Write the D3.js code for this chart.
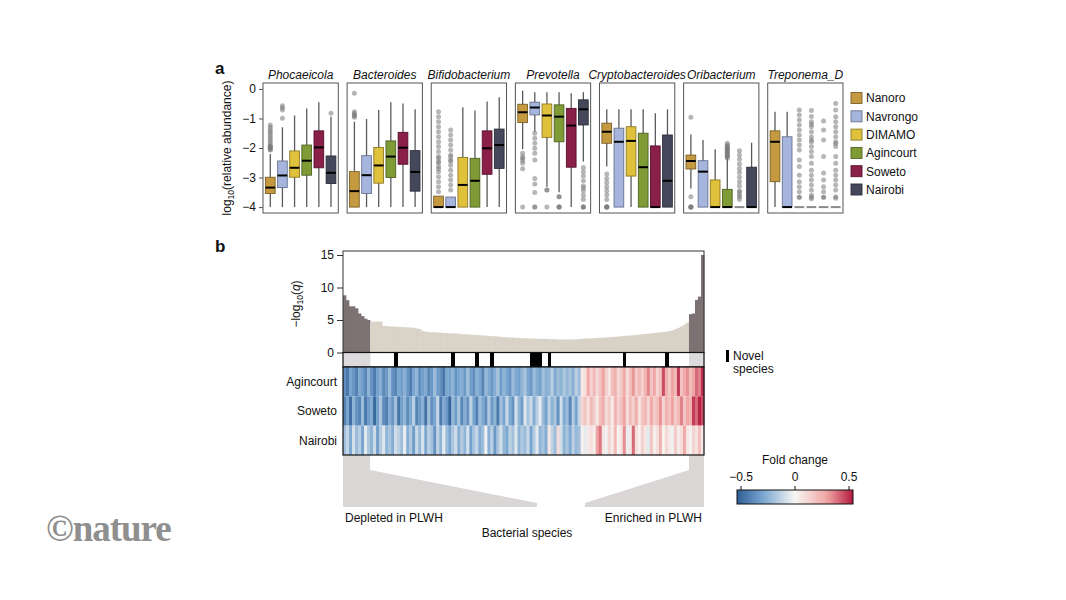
<!DOCTYPE html>
<html><head><meta charset="utf-8">
<script src="https://cdn.jsdelivr.net/npm/d3@7"></script>
<style>body{margin:0;background:#fff} text{font-family:"Liberation Sans",Arial,sans-serif;fill:#111}</style>
</head><body><svg id="c" width="1066" height="600"></svg>
<script>
// ---------- DATA ----------
const groups = ["Nanoro","Navrongo","DIMAMO","Agincourt","Soweto","Nairobi"];
const groupColors = ["#c4993f","#a6b5de","#e0c13c","#7f9b36","#8a1f47","#45485a"];
const genera = ["Phocaeicola","Bacteroides","Bifidobacterium","Prevotella","Cryptobacteroides","Oribacterium","Treponema_D"];
const yTicksA = [0,-1,-2,-3,-4];
// [low whisker, q1, median, q3, high whisker] per group
const phocaeicolaBox = [[-4,-3.54,-3.34,-2.99,-2.2],[-4,-3.34,-2.93,-2.44,-1.3],[-4,-2.99,-2.67,-2.10,-0.9],[-4,-2.92,-2.43,-1.9,-0.66],[-4,-2.67,-1.98,-1.42,-0.45],[-4,-3.2,-2.84,-2.27,-0.94]];
const bacteroidesBox = [[-4,-4,-3.46,-2.8,-1.11],[-4,-3.54,-2.92,-2.26,-1.02],[-4,-3.19,-2.59,-1.98,-0.71],[-4,-3.0,-2.29,-1.76,-0.45],[-4,-2.55,-1.99,-1.47,-0.49],[-4,-3.46,-2.81,-2.09,-0.69]];
const bifidobacteriumBox = [[-4,-4,-4,-3.63,-3.63],[-4,-4,-4,-3.66,-3.66],[-4,-4,-3.25,-2.32,-0.62],[-4,-4,-3.11,-2.35,-0.73],[-4,-2.89,-2.01,-1.42,-0.43],[-4,-2.69,-1.9,-1.36,-0.28]];
const prevotellaBox = [[-2.04,-1.14,-0.79,-0.52,-0.06],[-1.45,-0.88,-0.63,-0.45,-0.11],[-3.31,-1.64,-0.9,-0.51,-0.11],[-3.5,-1.79,-0.94,-0.54,-0.11],[-4,-2.65,-1.24,-0.66,-0.15],[-2.46,-1.22,-0.69,-0.37,-0.11]];
const cryptobacteroidesBox = [[-2.63,-1.84,-1.45,-1.16,-0.69],[-4,-4,-1.79,-1.33,-0.69],[-4,-2.95,-1.76,-1.28,-0.69],[-4,-4,-2.65,-1.5,-0.69],[-4,-4,-4,-1.93,-0.82],[-4,-4,-3.11,-1.56,-0.69]];
const oribacteriumBox = [[-3.37,-2.71,-2.44,-2.24,-1.54],[-4,-4,-2.8,-2.43,-1.73],[-4,-4,-4,-3.08,-2.04],[-4,-4,-4,-3.4,-2.3],[-4,-4,-4,-4,-4],[-4,-4,-4,-2.65,-1.82]];
const treponemaBox = [[-4,-3.14,-1.79,-1.42,-0.77],[-4,-4,-4,-1.62,-0.77],[-4,-4,-4,-4,-4],[-4,-4,-4,-4,-4],[-4,-4,-4,-4,-4],[-4,-4,-4,-4,-4]];
// outliers per group
const phocaeicolaOut = [[-1.22,-1.3,-1.38,-1.45,-1.52,-1.6,-1.67,-1.75,-1.82,-1.9,-1.95,-2.0,-2.05,-1.95,-2.0,-2.07],[-0.57,-0.64,-0.71,-0.99],[],[],[],[-0.82]];
const bacteroidesOut = [[-0.15,-0.77,-0.83,-0.88,-0.92,-0.96],[],[],[],[],[]];
const bifidobacteriumOut = [[-0.77,-0.94,-1.11,-1.28,-1.45,-1.62,-1.79,-1.95,-2.12,-2.29,-2.35,-2.46,-2.5,-2.63,-2.7,-2.8,-2.97,-3.14,-3.31,-3.48],[-1.39,-1.56,-1.73,-1.9,-2.07,-2.24,-2.3,-2.41,-2.45,-2.58,-2.75,-2.92,-3.08,-3.25,-3.42],[],[],[],[]];
const prevotellaOut = [[-2.18,-2.3,-2.35,-2.42,-2.52,-2.7,-4],[-1.5,-1.67,-1.84,-2.01,-2.18,-2.41,-3.03,-3.22,-3.51,-4,-4],[-3.42,-3.42,-4],[-3.65,-3.65,-4,-4,-4],[],[-2.66,-2.8,-2.95,-3.11,-3.29,-3.35,-3.45,-3.6,-3.74,-4,-4,-4]];
const cryptobacteroidesOut = [[-2.88,-3.03,-3.17,-3.31,-3.45,-3.59,-3.74,-4,-4,-4,-4],[],[],[],[],[]];
const oribacteriumOut = [[-0.96,-3.65,-4,-4,-4,-4],[],[],[-1.84,-1.9,-1.95,-2.0,-2.05,-2.1,-2.15,-2.2,-2.25,-2.3,-2.35,-1.95,-2.05,-2.15,-2.25],[-2.09,-2.24,-2.38,-2.54,-2.69,-2.83,-2.99,-3.14,-3.29,-3.45,-3.5,-3.59,-3.65,-3.74],[]];
const treponemaOut = [[],[],[-0.71,-0.88,-1.05,-1.22,-1.39,-1.56,-1.73,-1.9,-2.07,-2.41,-2.63,-2.92,-3.14,-3.31,-3.48,-3.67,-3.67],[-0.73,-0.93,-1.11,-1.2,-1.28,-1.45,-1.62,-1.73,-1.79,-1.95,-2.12,-2.29,-2.52,-2.75,-2.92,-3.08,-3.25,-3.42,-3.6,-3.67,-3.72],[-1.09,-1.39,-1.73,-2.29,-2.85,-3.08,-3.31,-3.48,-3.67,-3.67],[-0.49,-0.71,-0.94,-1.11,-1.28,-1.45,-1.62,-1.79,-1.85,-1.95,-2.29,-2.52,-2.75,-2.92,-3.08,-3.25,-3.42,-3.65,-3.7]];
const boxStats = [phocaeicolaBox,bacteroidesBox,bifidobacteriumBox,prevotellaBox,cryptobacteroidesBox,oribacteriumBox,treponemaBox];
const outliers = [phocaeicolaOut,bacteroidesOut,bifidobacteriumOut,prevotellaOut,cryptobacteroidesOut,oribacteriumOut,treponemaOut];

// panel b
const qValues = [8.8,8.05,7.1,7.1,6.8,6.0,5.6,5.2,5.0,
 4.75,4.75,4.75,4.75,4.1,4.05,4.0,4.0,3.95,3.95,3.9,3.9,3.85,3.85,3.8,3.7,3.6,
 3.3,3.2,3.15,3.1,3.1,3.05,3.05,3.0,3.0,2.95,2.95,2.9,2.9,
 2.8,2.8,2.75,2.75,2.7,2.7,2.65,2.6,2.6,2.55,2.5,2.5,2.45,2.4,
 2.35,2.35,2.3,2.3,2.25,2.25,
 2.2,2.2,2.15,2.15,2.15,2.1,2.1,2.1,2.1,2.05,2.05,2.05,2.0,2.0,
 2.0,2.0,2.0,2.0,2.05,2.05,2.1,
 2.15,2.15,2.2,2.2,2.25,2.25,2.3,2.3,2.35,2.4,2.4,2.45,2.5,
 2.55,2.6,2.6,2.65,2.7,2.75,2.8,2.85,2.9,2.95,
 3.0,3.05,3.1,3.15,3.2,3.3,3.4,
 3.6,3.8,4.0,4.3,4.6,
 5.9,6.0,8.1,8.6,15];
const novelSpecies = [17,36,44,49,62,63,64,65,68,93,107];
const heatRows = ["Agincourt","Soweto","Nairobi"];
const agincourtFC = [-0.38,-0.45,-0.30,-0.35,-0.42,-0.28,-0.33,-0.40,-0.25,-0.36,-0.44,-0.31,-0.27,-0.39,-0.34,-0.22,-0.37,-0.41,-0.29,-0.33,
 -0.26,-0.35,-0.43,-0.30,-0.24,-0.38,-0.32,-0.28,-0.40,-0.35,-0.21,-0.33,-0.37,-0.46,-0.29,-0.31,-0.25,-0.36,-0.30,-0.27,
 -0.34,-0.20,-0.32,-0.38,-0.26,-0.30,-0.41,-0.23,-0.29,-0.35,-0.27,-0.19,-0.33,-0.24,-0.30,-0.36,-0.22,-0.28,-0.31,-0.25,
 -0.18,-0.29,-0.34,-0.22,-0.27,-0.31,-0.20,-0.26,-0.24,-0.15,-0.28,-0.21,-0.25,-0.17,-0.23,-0.19,-0.26,-0.14,-0.21,
 0.05,0.08,0.28,0.12,0.22,0.10,0.18,0.30,0.14,0.06,0.20,0.25,0.11,0.16,0.27,0.09,0.19,0.32,0.15,0.22,0.13,0.24,0.35,0.18,0.28,0.12,0.20,0.45,0.26,0.17,0.30,0.22,0.48,0.19,0.27,0.33,0.21,0.29,0.40,0.36,0.50];
const sowetoFC = [-0.42,-0.30,-0.48,-0.25,-0.36,-0.40,-0.22,-0.45,-0.33,-0.28,-0.50,-0.31,-0.18,-0.38,-0.43,-0.27,-0.35,-0.20,-0.46,-0.32,
 -0.24,-0.39,-0.29,-0.15,-0.41,-0.34,-0.26,-0.47,-0.21,-0.37,-0.30,-0.12,-0.44,-0.28,-0.35,-0.52,-0.23,-0.33,-0.19,-0.40,
 -0.27,-0.36,-0.14,-0.31,-0.42,-0.22,-0.29,-0.38,-0.17,-0.34,-0.25,-0.45,-0.20,-0.30,-0.11,-0.28,-0.36,-0.08,-0.24,-0.33,
 -0.06,-0.19,-0.10,-0.27,-0.15,-0.04,-0.22,-0.31,-0.13,-0.25,-0.18,-0.36,-0.09,-0.28,-0.21,-0.40,-0.16,-0.30,-0.12,
 0.12,0.18,0.08,0.22,0.15,0.05,0.20,0.26,0.10,0.16,0.04,0.24,0.13,0.19,0.30,0.09,0.21,0.14,0.27,0.07,0.18,0.23,0.11,0.28,0.16,0.20,0.33,0.12,0.25,0.19,0.30,0.15,0.22,0.36,0.18,0.28,0.24,0.48,0.40,0.52,0.45];
const nairobiFC = [-0.20,-0.12,-0.28,-0.08,-0.22,-0.15,-0.30,-0.05,-0.18,-0.25,-0.10,-0.32,-0.16,-0.06,-0.24,-0.19,-0.27,-0.09,-0.14,-0.21,
 -0.03,-0.26,-0.17,-0.33,-0.11,-0.23,-0.07,-0.29,-0.15,-0.20,-0.36,-0.13,-0.25,-0.04,-0.22,-0.30,-0.18,-0.10,-0.27,-0.16,
 -0.24,-0.08,-0.31,-0.19,-0.12,-0.28,-0.21,-0.02,-0.26,-0.15,-0.34,-0.18,-0.09,-0.23,-0.29,-0.14,-0.20,-0.06,-0.25,-0.17,
 -0.22,-0.11,-0.30,-0.16,-0.05,-0.24,-0.19,-0.27,0.06,-0.13,-0.21,0.10,-0.09,-0.25,-0.18,-0.28,-0.14,-0.23,-0.20,
 0.02,-0.04,0.05,0.08,0.03,0.30,0.38,0.06,-0.02,0.12,0.04,0.22,0.01,0.07,0.34,-0.03,0.05,0.40,0.09,0.02,0.14,0.06,-0.05,0.18,0.03,0.08,0.25,0.01,0.11,0.05,-0.02,0.16,0.04,0.09,0.28,0.06,0.02,0.13,0.07,0.20,0.05];
const foldChange = [agincourtFC, sowetoFC, nairobiFC];
const yTicksB = [0,5,10,15];
const fcTicks = [-0.5,0,0.5];

// ---------- DRAW ----------
const svg = d3.select("#c");
const F = 12;

// Panel a
svg.append("text").attr("x",215).attr("y",74).attr("font-size",17).attr("font-weight","bold").text("a");
const panelX = d3.scaleBand().domain(genera).range([263,843]).paddingInner(0.105);
const yA = d3.scaleLinear().domain([-4.2,0.2]).range([213,83]);
const gx = d3.scaleBand().domain(groups).range([0,panelX.bandwidth()]).paddingInner(0.2).paddingOuter(0.2);
const color = d3.scaleOrdinal().domain(groups).range(groupColors);

genera.forEach((gen,gi)=>{
  const g = svg.append("g").attr("transform",`translate(${panelX(gen)},0)`);
  g.append("text").attr("x",panelX.bandwidth()/2).attr("y",79).attr("text-anchor","middle")
    .attr("font-size",F).attr("font-style","italic").text(gen);
  groups.forEach((grp,k)=>{
    const [lo,q1,md,q3,hi] = boxStats[gi][k];
    const cx = gx(grp)+gx.bandwidth()/2, bw = gx.bandwidth();
    if (q1===q3){
      g.append("line").attr("x1",gx(grp)).attr("x2",gx(grp)+bw).attr("y1",yA(q1)).attr("y2",yA(q1))
        .attr("stroke","#8a8a8a").attr("stroke-width",2);
    } else {
      g.append("line").attr("x1",cx).attr("x2",cx).attr("y1",yA(lo)).attr("y2",yA(hi))
        .attr("stroke","#5a5a5a").attr("stroke-width",1.3);
      g.append("rect").attr("x",gx(grp)).attr("y",yA(q3)).attr("width",bw).attr("height",yA(q1)-yA(q3))
        .attr("fill",color(grp)).attr("stroke",d3.color(color(grp)).darker(1.3)).attr("stroke-width",0.9);
      g.append("line").attr("x1",gx(grp)).attr("x2",gx(grp)+bw).attr("y1",yA(md)).attr("y2",yA(md))
        .attr("stroke","#000").attr("stroke-width",2);
    }
    g.selectAll(null).data(outliers[gi][k]).join("circle")
      .attr("cx",cx).attr("cy",d=>yA(d)).attr("r",2.5).attr("fill","#7a7a7a").attr("fill-opacity",0.55);
  });
  g.append("rect").attr("x",0).attr("y",83).attr("width",panelX.bandwidth()).attr("height",130)
    .attr("fill","none").attr("stroke","#555").attr("stroke-width",1);
  if (gi===0){
    const ax = g.append("g").call(d3.axisLeft(yA).tickValues(yTicksA).tickFormat(d3.format("d")).tickSize(4).tickPadding(3));
    ax.select(".domain").remove();
    ax.selectAll("line").attr("stroke","#555");
    ax.selectAll("text").attr("font-size",F).attr("font-family","Liberation Sans, Arial, sans-serif").attr("fill","#111");
  }
});
const yt = svg.append("text").attr("transform","translate(231,148) rotate(-90)").attr("text-anchor","middle").attr("font-size",F);
yt.append("tspan").text("log");
yt.append("tspan").attr("dy",3).attr("font-size",8.5).text("10");
yt.append("tspan").attr("dy",-3).text("(relative abundance)");

// legend
groups.forEach((grp,k)=>{
  const y = 98 + k*18.3;
  svg.append("rect").attr("x",851).attr("y",y-5.5).attr("width",11).attr("height",11)
    .attr("fill",color(grp)).attr("stroke",d3.color(color(grp)).darker(1.3)).attr("stroke-width",0.9);
  svg.append("text").attr("x",866).attr("y",y).attr("dy","0.36em").attr("font-size",F).text(grp);
});

// Panel b
svg.append("text").attr("x",215).attr("y",252).attr("font-size",17).attr("font-weight","bold").text("b");
const idx = qValues.map((d,i)=>i);
const xB = d3.scaleBand().domain(idx).range([343,704]).padding(0);
const yB = d3.scaleLinear().domain([0,15]).range([352.5,255]);
const bw = xB.bandwidth();
const isHigh = d=>d>=5;

// trapezoid connectors
const hi = idx.filter(i=>isHigh(qValues[i]));
const leftHi = hi.filter(i=>i<qValues.length/2), rightHi = hi.filter(i=>i>=qValues.length/2);
const lx0 = xB(d3.min(leftHi)), lx1 = xB(d3.max(leftHi))+bw;
const rx0 = xB(d3.min(rightHi)), rx1 = xB(d3.max(rightHi))+bw;
svg.append("path").attr("d",`M${lx0},455 L${lx1},455 L${lx1},470 L537,503 L537,507 L${lx0},507 Z`).attr("fill","#dad6d6");
svg.append("path").attr("d",`M${rx0},455 L${rx1},455 L${rx1},507 L585,507 L585,503 L${rx0},470 Z`).attr("fill","#dad6d6");

svg.append("g").selectAll("rect").data(qValues).join("rect")
  .attr("x",(d,i)=>xB(i)).attr("width",bw+0.35).attr("y",d=>yB(d)).attr("height",d=>yB(0)-yB(d))
  .attr("fill",d=>isHigh(d)?"#7d7273":"#d8d2c7");
svg.append("rect").attr("x",343).attr("y",251).attr("width",361).attr("height",yB(0)-251)
  .attr("fill","none").attr("stroke","#333").attr("stroke-width",1);
const axB = svg.append("g").attr("transform","translate(343,0)").call(d3.axisLeft(yB).tickValues(yTicksB).tickSize(6).tickPadding(3));
axB.select(".domain").remove();
axB.selectAll("line").attr("stroke","#333");
axB.selectAll("text").attr("font-size",F).attr("font-family","Liberation Sans, Arial, sans-serif").attr("fill","#111");
const yt2 = svg.append("text").attr("transform","translate(300,304) rotate(-90)").attr("text-anchor","middle").attr("font-size",F);
yt2.append("tspan").text("−log");
yt2.append("tspan").attr("dy",3).attr("font-size",8.5).text("10");
yt2.append("tspan").attr("dy",-3).text("(");
yt2.append("tspan").attr("font-style","italic").text("q");
yt2.append("tspan").text(")");

// novel species row
svg.append("g").selectAll("rect").data(hi).join("rect")
  .attr("x",i=>xB(i)).attr("width",bw+0.35).attr("y",yB(0)).attr("height",367-yB(0)).attr("fill","#dcdadc");
svg.append("g").selectAll("rect").data(novelSpecies).join("rect")
  .attr("x",i=>xB(i)).attr("width",bw+0.6).attr("y",yB(0)).attr("height",367-yB(0)).attr("fill","#000")
  .attr("shape-rendering","crispEdges");
svg.append("rect").attr("x",343).attr("y",yB(0)).attr("width",361).attr("height",367-yB(0))
  .attr("fill","none").attr("stroke","#111").attr("stroke-width",1.2);
svg.append("rect").attr("x",726).attr("y",350).attr("width",3).attr("height",12).attr("fill","#000");
svg.append("text").attr("x",733).attr("y",360).attr("font-size",F).text("Novel");
svg.append("text").attr("x",733).attr("y",373).attr("font-size",F).text("species");

// heatmap
const yH = d3.scaleBand().domain(heatRows).range([367,455]);
const fcColor = d3.scaleLinear().domain([-0.55,-0.3,0,0.3,0.55])
  .range(["#2b5a93","#78a5cf","#f7f6f4","#efa4a2","#b1123c"]).clamp(true);
heatRows.forEach((r,ri)=>{
  svg.append("g").selectAll("rect").data(foldChange[ri]).join("rect")
    .attr("x",(d,i)=>xB(i)).attr("width",bw+0.4).attr("y",yH(r)).attr("height",yH.bandwidth())
    .attr("fill",d=>fcColor(d));
  svg.append("text").attr("x",337).attr("y",yH(r)+yH.bandwidth()/2).attr("dy","0.36em")
    .attr("text-anchor","end").attr("font-size",F).text(r);
});
svg.append("rect").attr("x",343).attr("y",367).attr("width",361).attr("height",88)
  .attr("fill","none").attr("stroke","#111").attr("stroke-width",1.2);

svg.append("text").attr("x",345).attr("y",522).attr("font-size",F).text("Depleted in PLWH");
svg.append("text").attr("x",702).attr("y",522).attr("text-anchor","end").attr("font-size",F).text("Enriched in PLWH");
svg.append("text").attr("x",527).attr("y",537).attr("text-anchor","middle").attr("font-size",F).text("Bacterial species");

// colorbar
const xC = d3.scaleLinear().domain([-0.537,0.537]).range([737,853]);
const grad = svg.append("defs").append("linearGradient").attr("id","fcg");
d3.range(0,1.0001,0.05).forEach(t=>{
  grad.append("stop").attr("offset",t).attr("stop-color",fcColor(xC.invert(737+t*116)));
});
svg.append("rect").attr("x",737).attr("y",490).attr("width",116).attr("height",14)
  .attr("fill","url(#fcg)").attr("stroke","#111").attr("stroke-width",1);
fcTicks.forEach(t=>{
  svg.append("line").attr("x1",xC(t)).attr("x2",xC(t)).attr("y1",486).attr("y2",490).attr("stroke","#111");
  svg.append("text").attr("x",xC(t)).attr("y",481).attr("text-anchor","middle").attr("font-size",F)
    .text(t===0?"0":(t<0?"−":"")+Math.abs(t));
});
svg.append("text").attr("x",795).attr("y",464).attr("text-anchor","middle").attr("font-size",F).text("Fold change");

// watermark
svg.append("text").attr("x",46).attr("y",541).attr("font-size",37).attr("font-weight","bold").attr("letter-spacing",-1)
  .style("font-family","'Liberation Serif','DejaVu Serif',serif").style("fill","#8f8f8f").text("©nature");
</script></body></html>
